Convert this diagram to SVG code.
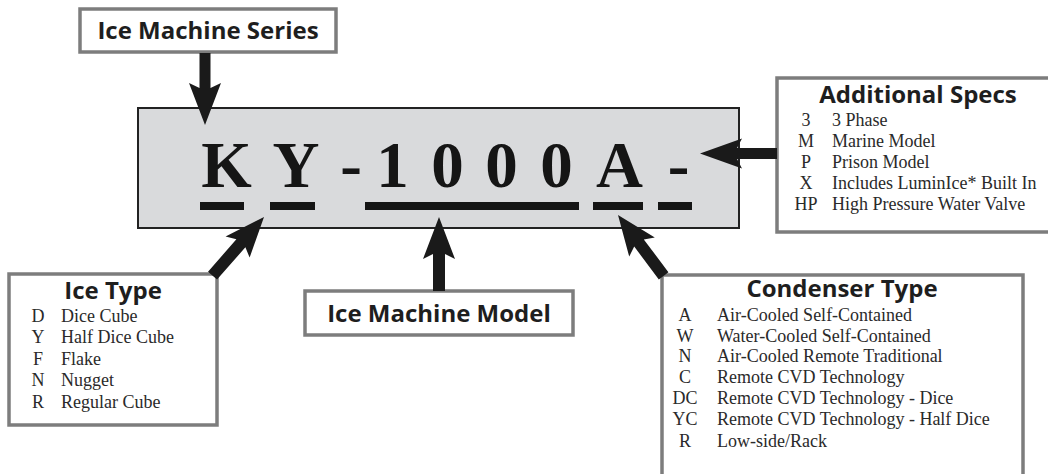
<svg xmlns="http://www.w3.org/2000/svg" width="1048" height="474" viewBox="0 0 1048 474">
  <style>
    .lbl { fill: #ffffff; stroke: #7d7d7d; stroke-width: 3.5; }
    .title { font-family: "Open Sans", "Noto Sans", sans-serif; font-weight: 700; font-size: 24px; fill: #1e1e1e; text-anchor: middle; }
    .code { font-family: "Liberation Serif", serif; font-size: 18px; fill: #2a2a2a; text-anchor: middle; }
    .desc { font-family: "Liberation Serif", serif; font-size: 18px; fill: #2a2a2a; }
    .big { font-family: "Liberation Serif", serif; font-weight: 700; font-size: 65px; fill: #151515; text-anchor: middle; }
    .ul { fill: #151515; }
    .arrow { fill: #1a1a1a; }
  </style>
  <rect width="1048" height="474" fill="#ffffff"/>

  <g id="model-code">
    <rect x="138" y="108" width="601" height="120" fill="#d9dadc" stroke="#222222" stroke-width="2"/>
    <text class="big" x="226.5" y="187">K</text>
    <text class="big" x="296" y="187">Y</text>
    <text class="big" x="351" y="187">-</text>
    <text class="big" x="392.5" y="187">1</text>
    <text class="big" x="447.5" y="187">0</text>
    <text class="big" x="501.5" y="187">0</text>
    <text class="big" x="556.5" y="187">0</text>
    <text class="big" x="619.5" y="187">A</text>
    <text class="big" x="678.5" y="187">-</text>
    <rect class="ul" x="200" y="202" width="44" height="8"/>
    <rect class="ul" x="270" y="202" width="45" height="8"/>
    <rect class="ul" x="365" y="202" width="214" height="8"/>
    <rect class="ul" x="593" y="202" width="50" height="8"/>
    <rect class="ul" x="658" y="202" width="34" height="8"/>
  </g>

  <g id="ice-machine-series">
    <rect class="lbl" x="80" y="9" width="256" height="43"/>
    <text class="title" x="208" y="39">Ice Machine Series</text>
  </g>

  <g id="ice-machine-model">
    <rect class="lbl" x="305" y="291" width="268" height="44"/>
    <text class="title" x="439" y="322">Ice Machine Model</text>
  </g>

  <g id="additional-specs">
    <rect class="lbl" x="777" y="78" width="290" height="154"/>
    <text class="title" x="918" y="103">Additional Specs</text>
    <text class="code" x="806" y="126">3</text><text class="desc" x="832" y="126">3 Phase</text>
    <text class="code" x="806" y="147">M</text><text class="desc" x="832" y="147">Marine Model</text>
    <text class="code" x="806" y="168">P</text><text class="desc" x="832" y="168">Prison Model</text>
    <text class="code" x="806" y="189">X</text><text class="desc" x="832" y="189">Includes LuminIce* Built In</text>
    <text class="code" x="806" y="210">HP</text><text class="desc" x="832" y="210">High Pressure Water Valve</text>
  </g>

  <g id="ice-type">
    <rect class="lbl" x="9" y="274" width="208" height="151"/>
    <text class="title" x="113" y="299">Ice Type</text>
    <text class="code" x="38" y="322">D</text><text class="desc" x="61" y="322">Dice Cube</text>
    <text class="code" x="38" y="343">Y</text><text class="desc" x="61" y="343">Half Dice Cube</text>
    <text class="code" x="38" y="365">F</text><text class="desc" x="61" y="365">Flake</text>
    <text class="code" x="38" y="386">N</text><text class="desc" x="61" y="386">Nugget</text>
    <text class="code" x="38" y="408">R</text><text class="desc" x="61" y="408">Regular Cube</text>
  </g>

  <g id="condenser-type">
    <rect class="lbl" x="662" y="275" width="361" height="215"/>
    <text class="title" x="842" y="297">Condenser Type</text>
    <text class="code" x="685" y="321">A</text><text class="desc" x="717" y="321">Air-Cooled Self-Contained</text>
    <text class="code" x="685" y="342">W</text><text class="desc" x="717" y="342">Water-Cooled Self-Contained</text>
    <text class="code" x="685" y="362">N</text><text class="desc" x="717" y="362">Air-Cooled Remote Traditional</text>
    <text class="code" x="685" y="383">C</text><text class="desc" x="717" y="383">Remote CVD Technology</text>
    <text class="code" x="685" y="404">DC</text><text class="desc" x="717" y="404">Remote CVD Technology - Dice</text>
    <text class="code" x="685" y="425">YC</text><text class="desc" x="717" y="425">Remote CVD Technology - Half Dice</text>
    <text class="code" x="685" y="447">R</text><text class="desc" x="717" y="447">Low-side/Rack</text>
  </g>

  <g id="connectors">
    <path class="arrow" transform="translate(205,125) rotate(90)" d="M0,0 L-42,-16 L-37,-5.5 L-72,-5.5 L-72,5.5 L-37,5.5 L-42,16 Z"/>
    <path class="arrow" transform="translate(439,217) rotate(-90)" d="M0,0 L-42,-16 L-37,-6 L-74,-6 L-74,6 L-37,6 L-42,16 Z"/>
    <path class="arrow" transform="translate(700,153.5) rotate(180)" d="M0,0 L-42,-15 L-37,-5.5 L-77,-5.5 L-77,5.5 L-37,5.5 L-42,15 Z"/>
    <path class="arrow" transform="translate(264,217) rotate(-48.7)" d="M0,0 L-40,-16 L-35,-6 L-78,-6 L-78,6 L-35,6 L-40,16 Z"/>
    <path class="arrow" transform="translate(618,215) rotate(-126.9)" d="M0,0 L-40,-16 L-35,-6 L-76,-6 L-76,6 L-35,6 L-40,16 Z"/>
  </g>
</svg>
